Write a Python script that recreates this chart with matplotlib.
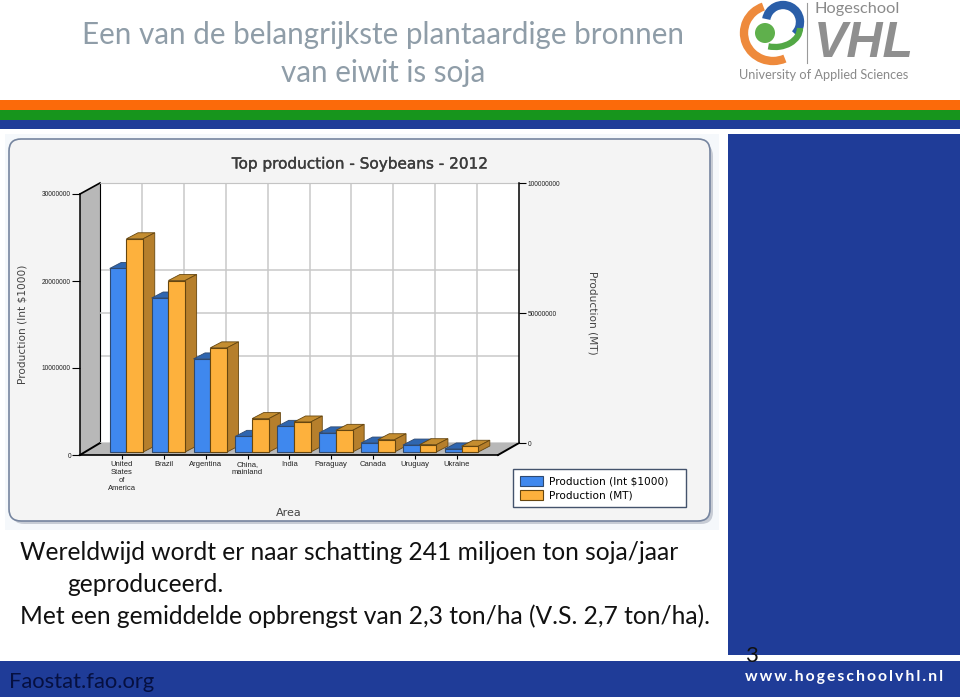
import matplotlib
matplotlib.use("Agg")
import matplotlib.pyplot as plt
import matplotlib.patheffects as pe
from matplotlib.patches import FancyBboxPatch, Polygon, Rectangle, Arc, Circle, Patch

plt.rcParams["font.family"] = ["Lato", "DejaVu Sans"]

areas = ["United\nStates\nof\nAmerica", "Brazil", "Argentina", "China,\nmainland", "India",
         "Paraguay", "Canada", "Uruguay", "Ukraine"]
prod_int = [21100000, 17700000, 10700000, 1800000, 2950000, 2200000, 1030000, 800000, 350000]
prod_mt = [81700000, 65700000, 39900000, 12800000, 11500000, 8300000, 4700000, 2800000, 2200000]
left_ticks = [0, 10000000, 20000000, 30000000]
right_ticks = [0, 50000000, 100000000]

W, H = 960, 697
NAVY = "#1f3c98"
MT_SCALE = 0.3  # MT values on the left axis scale


def rect_px(x0, y0, x1, y1):
    return [x0 / W, 1 - y1 / H, (x1 - x0) / W, (y1 - y0) / H]


fig = plt.figure(figsize=(9.6, 6.97), dpi=100, facecolor="white")

# page layer in pixel coordinates
page = fig.add_axes([0, 0, 1, 1], zorder=0)
page.set_xlim(0, W)
page.set_ylim(H, 0)
page.axis("off")

page.add_patch(Rectangle((0, 100), W, 10, color="#fb6a0a", lw=0))
page.add_patch(Rectangle((0, 110), W, 9.5, color="#17951c", lw=0))
page.add_patch(Rectangle((0, 119.5), W, 9, color=NAVY, lw=0))
page.add_patch(Rectangle((728, 133.5), 232, 521.5, color=NAVY, lw=0))
page.add_patch(Rectangle((0, 661), W, 36, color=NAVY, lw=0))
page.add_patch(Rectangle((5, 134), 714, 396, color="#f5f8fb", lw=0))

page.add_patch(FancyBboxPatch((12, 144), 701, 380, boxstyle="round,pad=0,rounding_size=12",
                              fc="#b4bac6", ec="none", alpha=0.7))
page.add_patch(FancyBboxPatch((9, 139), 701, 382, boxstyle="round,pad=0,rounding_size=12",
                              fc="#f4f4f4", ec="#76859f", lw=1.2))

page.text(383, 35, "Een van de belangrijkste plantaardige bronnen", ha="center", va="center",
          fontsize=21.3, color="#8f9da8")
page.text(383, 73, "van eiwit is soja", ha="center", va="center", fontsize=21.3, color="#8f9da8")

page.text(20, 552, "Wereldwijd wordt er naar schatting 241 miljoen ton soja/jaar", va="center",
          fontsize=17.75, color="#111111")
page.text(67, 585, "geproduceerd.", va="center", fontsize=17.75, color="#111111")
page.text(20, 616, "Met een gemiddelde opbrengst van 2,3 ton/ha (V.S. 2,7 ton/ha).", va="center",
          fontsize=17.75, color="#111111")
page.text(751, 656, "3", ha="center", va="center", fontsize=16, color="#111111")
page.text(9, 682, "Faostat.fao.org", va="center", fontsize=15.8, color="#061040")
page.text(943, 677, "\u2009".join("www.hogeschoolvhl.nl"), ha="right", va="center", fontsize=11.3,
          fontweight="bold", color="white")

# logo
page.add_patch(Arc((773, 33), 58, 56, theta1=65, theta2=250, color="#ee8a3c", lw=6))
page.add_patch(Arc((783, 22), 34, 34, theta1=190, theta2=45, color="#2a5ea8", lw=6))
page.add_patch(Arc((775, 28), 50, 38, theta1=0, theta2=110, color="#52a845", lw=4.5))
page.add_patch(Circle((765, 33), 10, color="#5fb04c", lw=0))
page.plot([807, 807], [3, 63], color="#9a9a9a", lw=0.8)
page.text(814, 9, "Hogeschool", va="center", fontsize=11.8, color="#8a8a8a")
page.text(814, 44, "VHL", va="center", fontsize=36, fontweight="bold", style="italic",
          color="#8f8f8f", family="Liberation Sans")
page.text(739, 75, "University of Applied Sciences", va="center", fontsize=9.2, color="#8a8a8a")

# chart walls
FX0, FX1, FY0, FY1 = 80, 498, 455, 194
BX0, BX1, BY0, BY1 = 100, 519, 443, 183
page.add_patch(Rectangle((BX0, BY1), BX1 - BX0, BY0 - BY1, color="white", lw=0))
page.add_patch(Polygon([(FX0, FY0), (FX0, FY1), (BX0, BY1), (BX0, BY0)], fc="#b8b8b8", ec="none"))
page.add_patch(Polygon([(FX0, FY0), (BX0, BY0), (BX1, BY0), (FX1, FY0)], fc="#b8b8b8", ec="none"))
page.plot([FX0, BX0], [FY1, BY1], color="black", lw=1.2)
page.plot([FX0, BX0], [FY0, BY0], color="black", lw=1.4)
page.plot([FX1, BX1], [FY0, BY0], color="black", lw=1.4)
page.plot([FX0, FX1], [FY0, FY0], color="black", lw=1.2)

# back wall, grid and right axis
back = fig.add_axes(rect_px(BX0, BY1, BX1, BY0), zorder=1)
back.patch.set_alpha(0)
back.set_xlim(-1, 9)
back.set_ylim(0, left_ticks[-1])
back.set_xticks(range(len(areas)))
back.set_yticks(left_ticks[1:3])
back.grid(True, color="#c9c9c9", lw=1.1, solid_capstyle="butt")
for side in back.spines:
    back.spines[side].set_visible(False)
back.spines["top"].set_visible(True)
back.spines["top"].set_color("#b5b5b5")
back.spines["left"].set_visible(True)
back.spines["left"].set_linewidth(0.8)
back.spines["left"].set_zorder(5)

right = back.twinx()
right.patch.set_alpha(0)
right.set_ylim(0, right_ticks[-1])
right.set_yticks(right_ticks)
right.set_yticklabels([str(v) for v in right_ticks], fontsize=4.8, color="#222222",
                      family="Liberation Sans")
right.yaxis.grid(True, color="#c9c9c9", lw=1.1, solid_capstyle="butt")
right.tick_params(axis="y", left=False, right=True, length=5, width=0.8, pad=1)
back.tick_params(axis="both", left=False, right=False, bottom=False, top=False, labelleft=False,
                 labelbottom=False)
for side in right.spines:
    right.spines[side].set_visible(False)
right.spines["right"].set_visible(True)
right.spines["right"].set_linewidth(1.1)

# front plane with the bars
ax = fig.add_axes(rect_px(FX0, FY1, FX1, FY0), zorder=2)
ax.patch.set_alpha(0)
ax.set_xlim(-1, 8.98)
ax.set_ylim(0, left_ticks[-1])
for side in ["top", "right", "bottom"]:
    ax.spines[side].set_visible(False)
ax.spines["left"].set_linewidth(1.1)

x_px = (FX1 - FX0) / 9.98
y_px = left_ticks[-1] / (FY0 - FY1)
dx, dy = 11.5 / x_px, 6 * y_px
base = 3 * y_px


def draw_bar(x0, x1, value, front, top, side, edge, z):
    ax.bar(x0, value, width=x1 - x0, bottom=base, align="edge", color=front, edgecolor=edge,
           lw=0.8, zorder=z + 0.2, clip_on=False)
    y = base + value
    ax.add_patch(Polygon([(x0, y), (x0 + dx, y + dy), (x1 + dx, y + dy), (x1, y)], fc=top, ec=edge,
                         lw=0.6, zorder=z, clip_on=False))
    ax.add_patch(Polygon([(x1, base), (x1 + dx, base + dy), (x1 + dx, y + dy), (x1, y)], fc=side,
                         ec=edge, lw=0.6, zorder=z, clip_on=False))


for i in range(len(areas)):
    draw_bar(i - 0.29, i + 0.11, prod_int[i], "#3f88ee", "#2f66b0", "#2f66b0", "#2f4a70", 10 + 2 * i)
    draw_bar(i + 0.11, i + 0.51, prod_mt[i] * MT_SCALE, "#fdb13d", "#c48d30", "#b67f2c", "#66460f",
             11 + 2 * i)

ax.set_xticks(range(len(areas)))
ax.set_xticklabels(areas, fontsize=5.5, color="#222222", family="Liberation Sans", linespacing=1.2)
ax.set_yticks(left_ticks)
ax.set_yticklabels([str(v) for v in left_ticks], fontsize=4.8, color="#222222",
                   family="Liberation Sans")
ax.tick_params(axis="y", length=6, width=0.8, pad=0.5)
ax.tick_params(axis="x", length=3, width=0.8, pad=1.5)

chart_title = page.text(360, 164, "Top production - Soybeans - 2012", ha="center", va="center",
                        fontsize=11, color="#3c3c3c", family="DejaVu Sans")
chart_title.set_path_effects([pe.withStroke(linewidth=0.25, foreground="#3c3c3c")])
page.text(23, 324, "Production (Int $1000)", rotation=90, ha="center", va="center", fontsize=7.6,
          color="#444444", family="DejaVu Sans")
page.text(592, 313, "Production (MT)", rotation=270, ha="center", va="center", fontsize=7.6,
          color="#444444", family="DejaVu Sans")
page.text(289, 513, "Area", ha="center", va="center", fontsize=8, color="#444444",
          family="DejaVu Sans")

handles = [Patch(fc="#3f88ee", ec="#2f4a70", lw=0.8), Patch(fc="#fdb13d", ec="#66460f", lw=0.8)]
leg = ax.legend(handles, ["Production (Int $1000)", "Production (MT)"], loc="upper left",
                bbox_to_anchor=rect_px(513, 469, 686, 508), bbox_transform=fig.transFigure,
                mode="expand", prop={"family": "DejaVu Sans", "size": 7.6},
                frameon=True, fancybox=False, framealpha=1, edgecolor="#44536c", borderaxespad=0,
                handlelength=2.2, handleheight=1.1, labelspacing=0.3, handletextpad=0.6,
                borderpad=0.65)
leg.set_zorder(50)
leg.get_frame().set_linewidth(1)

fig.savefig("out.png", dpi=100)
